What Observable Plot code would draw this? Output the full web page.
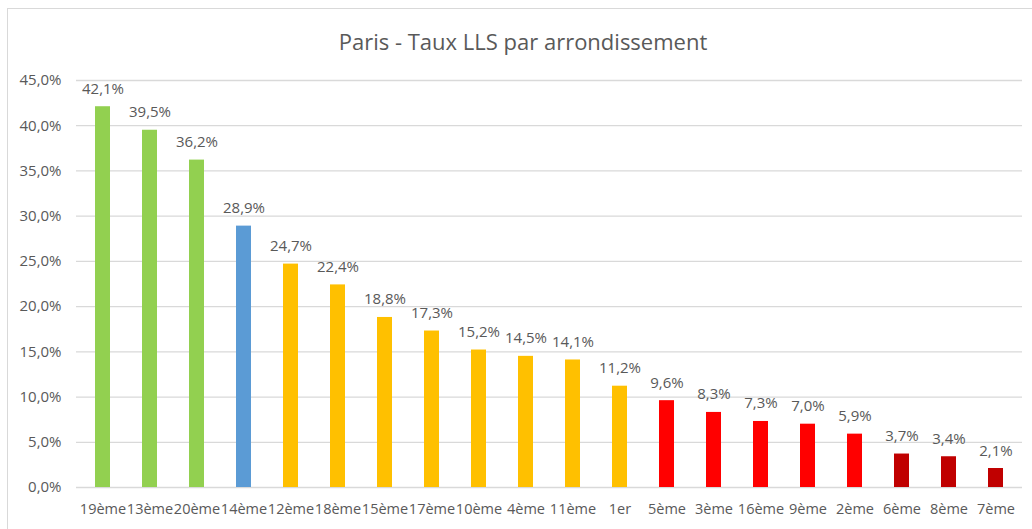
<!DOCTYPE html>
<html>
<head>
<meta charset="utf-8">
<script src="https://cdn.jsdelivr.net/npm/d3@7"></script>
<script src="https://cdn.jsdelivr.net/npm/@observablehq/plot@0.6"></script>
<style>
  html, body { margin: 0; padding: 0; background: #fff; }
  #wrap { position: relative; width: 1032px; height: 529px; overflow: hidden; font-family: "Open Sans", sans-serif; }
  #frame { position: absolute; left: 7px; top: 8px; width: 1100px; height: 600px; border-left: 1px solid #d9d9d9; border-top: 1px solid #d9d9d9; }
  #title { position: absolute; left: 0; width: 1046px; top: 26px; text-align: center; font-size: 22px; color: #595959; line-height: 30px; }
  #chart { position: absolute; left: 0; top: 0; }
</style>
</head>
<body>
<div id="wrap">
  <div id="frame"></div>
  <div id="title">Paris - Taux LLS par arrondissement</div>
  <div id="chart"></div>
</div>
<script>
const categories = ["19ème","13ème","20ème","14ème","12ème","18ème","15ème","17ème","10ème","4ème","11ème","1er","5ème","3ème","16ème","9ème","2ème","6ème","8ème","7ème"];
const values = [42.1, 39.5, 36.2, 28.9, 24.7, 22.4, 18.8, 17.3, 15.2, 14.5, 14.1, 11.2, 9.6, 8.3, 7.3, 7.0, 5.9, 3.7, 3.4, 2.1];
const groups = ["g","g","g","b","y","y","y","y","y","y","y","y","r","r","r","r","r","d","d","d"];
const groupKeys = ["g","b","y","r","d"];
const groupColors = ["#92d050","#5b9bd5","#ffc000","#ff0000","#c00000"];
const yTicks = [0, 5, 10, 15, 20, 25, 30, 35, 40, 45];

const data = categories.map((c, i) => ({cat: c, value: values[i], group: groups[i]}));
const fmt = v => v.toFixed(1).replace(".", ",") + "%";

const chart = Plot.plot({
  width: 1032,
  height: 529,
  marginTop: 80,
  marginBottom: 42,
  marginLeft: 76,
  marginRight: 10,
  style: {fontFamily: "'Open Sans', sans-serif", color: "#595959", background: "transparent"},
  x: {domain: categories, paddingInner: 0.68, paddingOuter: 0.34, label: null},
  y: {domain: [0, 45], label: null},
  color: {domain: groupKeys, range: groupColors},
  marks: [
    Plot.ruleY(yTicks, {stroke: "#d9d9d9", strokeWidth: 1.3}),
    Plot.barY(data, {x: "cat", y: "value", fill: "group"}),
    Plot.text(data, {x: "cat", y: "value", text: d => fmt(d.value), lineAnchor: "bottom", dy: -13, fontSize: 15, fill: "#595959"}),
    Plot.axisY(yTicks, {tickSize: 0, tickPadding: 15, tickFormat: fmt, fontSize: 15, label: null, fill: "#595959"}),
    Plot.axisX({tickSize: 0, tickPadding: 16, fontSize: 14.5, label: null, fill: "#595959"})
  ]
});
document.getElementById("chart").appendChild(chart);
</script>
</body>
</html>
